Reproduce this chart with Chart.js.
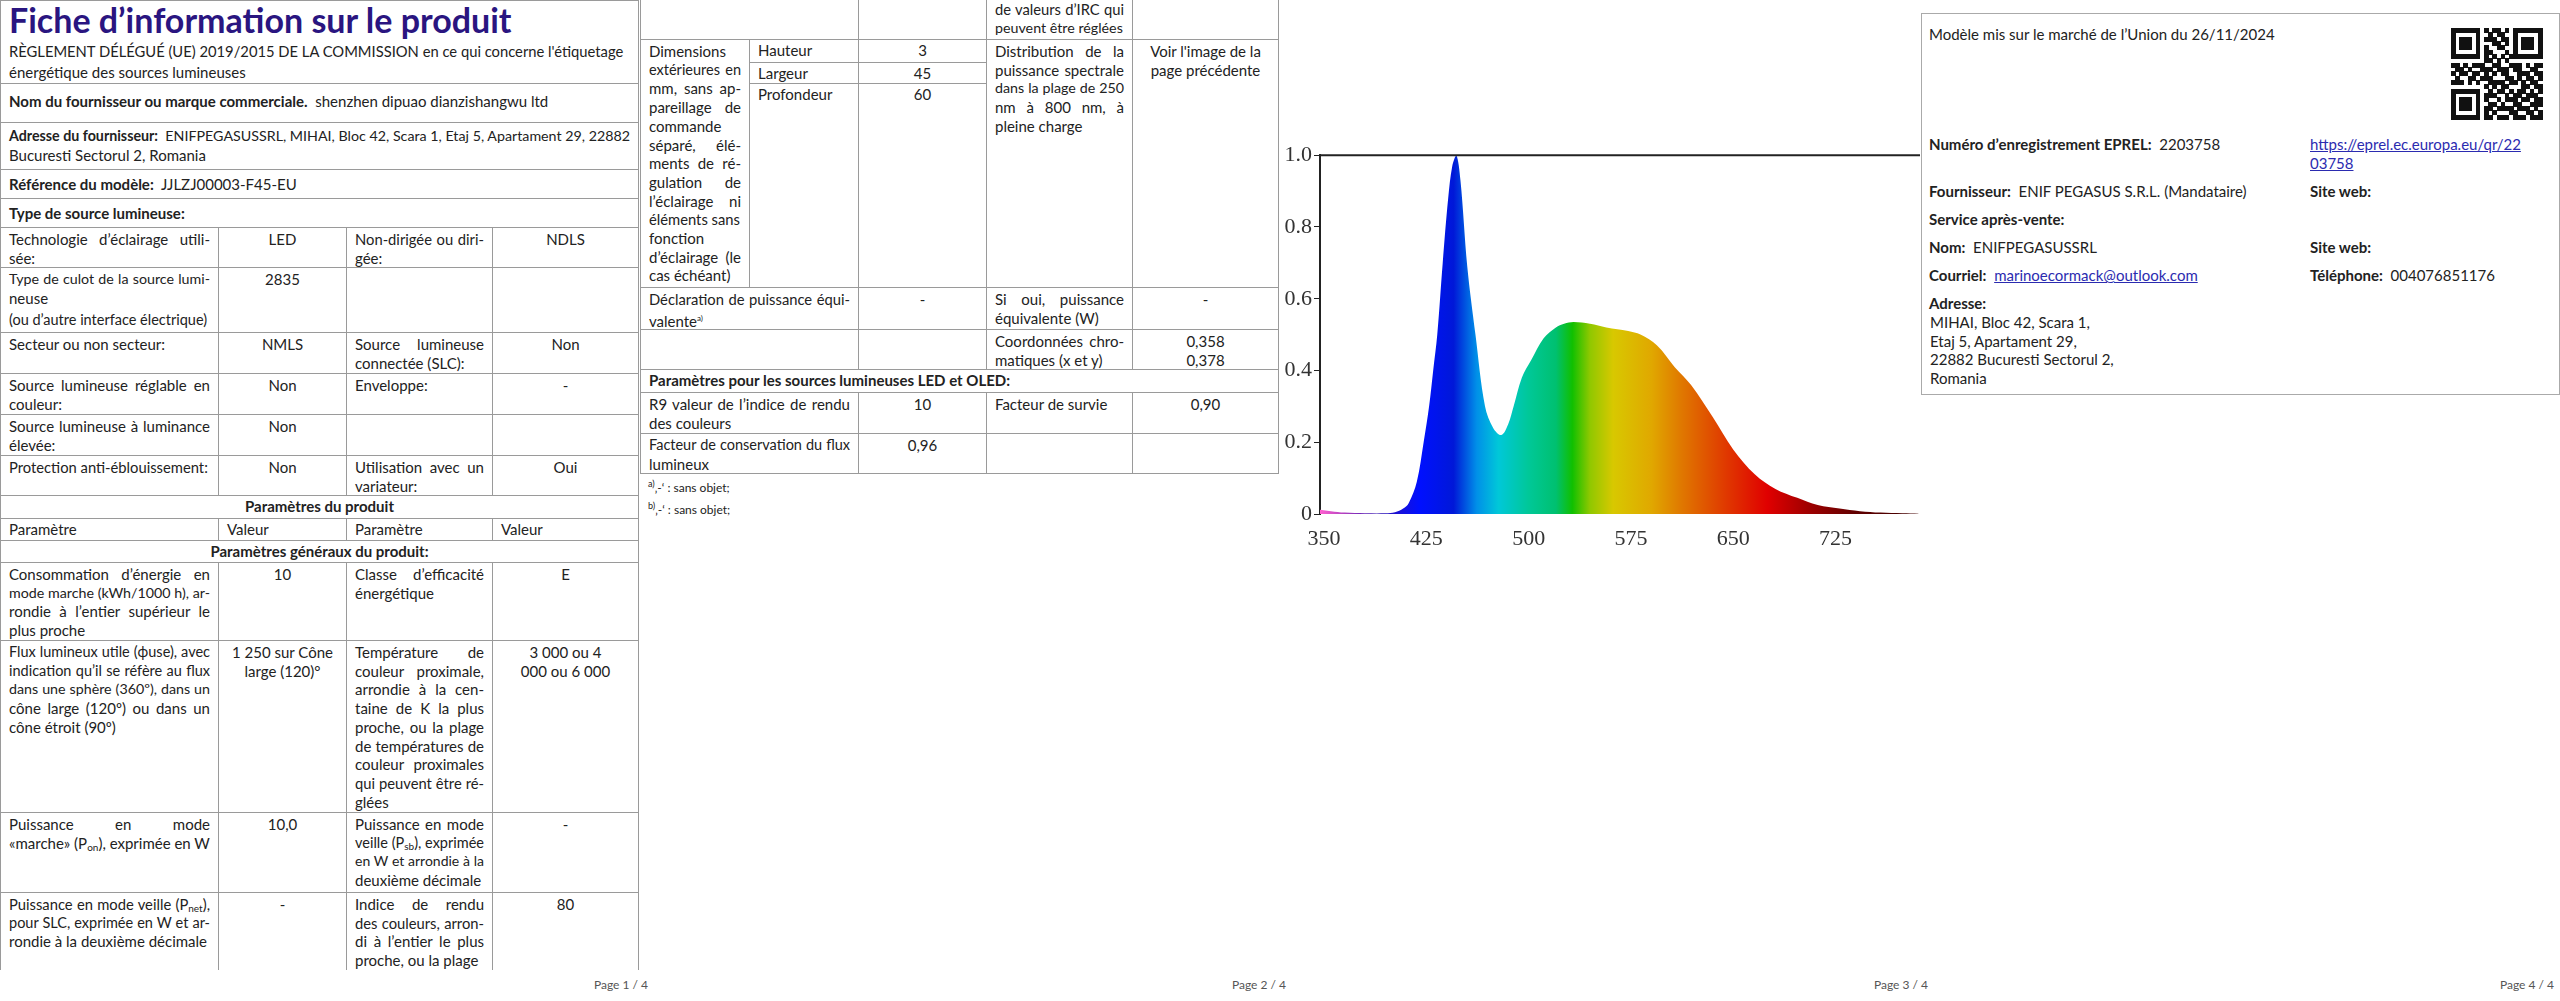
<!DOCTYPE html>
<html lang="fr"><head><meta charset="utf-8">
<script src="https://cdn.jsdelivr.net/npm/chart.js@4/dist/chart.umd.min.js"></script>
<style>
html,body{margin:0;padding:0;background:#fff;width:2560px;height:1001px;overflow:hidden;font-family:Lato,"Noto Sans",sans-serif;color:#222;}
.c{position:absolute;box-sizing:border-box;border:1px solid #9a9a9a;padding:2px 8px;font-size:15px;line-height:18.7px;overflow:hidden;}
.c .l{white-space:nowrap;text-align:justify;text-align-last:justify;overflow:visible;}
.c .l.e{text-align-last:left;}
.ctr,.ctr .l{text-align:center !important;text-align-last:center !important;}
.b{font-weight:bold;}
.t{position:absolute;font-size:15px;line-height:18.7px;white-space:nowrap;}
a{color:#2b2bb0;}
sub{font-size:10px;vertical-align:-2px;line-height:0;}
</style></head><body>
<div id="doc"></div>
<div style="position:absolute;left:1270px;top:140px;width:650px;height:420px;"><canvas id="ch" width="650" height="420"></canvas></div>
<script>
// ---- chart data ----
const wavelengths = [347,355,365,380,395,402,408,412,418,423,427,430,433,437,441,444,447,450,455,461,468,474,480,485,489,495,502,511,520,526,533,545,557,573,582,594,607,619,635,650,666,681,697,712,728,743,758,774,786];
const intensity   = [0.012,0.008,0.004,0.002,0.002,0.005,0.015,0.03,0.09,0.2,0.3,0.4,0.5,0.7,0.88,0.97,1.0,0.93,0.69,0.5,0.3,0.24,0.22,0.25,0.3,0.38,0.43,0.49,0.52,0.53,0.535,0.53,0.52,0.51,0.5,0.47,0.41,0.36,0.27,0.18,0.11,0.07,0.045,0.025,0.015,0.008,0.004,0.002,0.001];
const xTickLabels = [350,425,500,575,650,725];
const yTickLabels = ["0","0.2","0.4","0.6","0.8","1.0"];
const yTickValues = [0,0.2,0.4,0.6,0.8,1.0];

// ---- document text boxes ----
const doc=document.getElementById('doc');
function lines(s){ if(!s.includes('|')&&!s.includes('~')) return '<div class="l e">'+s+'</div>';
  // '|' = justified break, '~' = left break (not justified)
  const out=[];let cur='';let i=0;const parts=s.split(/([|~])/);
  for(let k=0;k<parts.length;k+=2){const txt=parts[k];const sep=parts[k+1];const cls=(sep==='|')?'l':'l e';out.push('<div class="'+cls+'">'+txt+'</div>');}
  return out.join('');}
function c(x,y,w,h,html,cls,style){const d=document.createElement('div');d.className='c '+(cls||'');d.style.left=x+'px';d.style.top=y+'px';d.style.width=(w+1)+'px';d.style.height=(h+1)+'px';if(style)d.style.cssText+=style;d.innerHTML=lines(html);doc.appendChild(d);}
function t(x,y,html,style){const d=document.createElement('div');d.className='t';d.style.left=x+'px';d.style.top=y+'px';if(style)d.style.cssText+=style;d.innerHTML=html;doc.appendChild(d);}
// page 1
const A=[0,218,346,492,638];
function row4(y,h,a,b,cc,d,st){c(A[0],y,A[1]-A[0],h,a,'',st);c(A[1],y,A[2]-A[1],h,b,'ctr',st);c(A[2],y,A[3]-A[2],h,cc,'',st);c(A[3],y,A[4]-A[3],h,d,'ctr',st);}
c(0,0,638,83,'<span style="font-size:34px;line-height:38px;font-weight:bold;color:#2a1580">Fiche d’information sur le produit</span>~<span style="line-height:24px">RÈGLEMENT DÉLÉGUÉ (UE) 2019/2015 DE LA COMMISSION en ce qui concerne l\'étiquetage</span>~énergétique des sources lumineuses','','padding-top:0px');
c(0,83,638,39,'<b>Nom du fournisseur ou marque commerciale.</b>&nbsp; shenzhen dipuao dianzishangwu ltd','','padding-top:8px');
c(0,122,638,47,'<b>Adresse du fournisseur:</b>&nbsp; ENIFPEGASUSSRL, MIHAI, Bloc 42, Scara 1, Etaj 5, Apartament 29, 22882|Bucuresti Sectorul 2, Romania','','padding-top:4px');
c(0,169,638,29,'<b>Référence du modèle:</b>&nbsp; JJLZJ00003-F45-EU','','padding-top:5px');
c(0,198,638,29,'<b>Type de source lumineuse:</b>','','padding-top:5px');
row4(227,40,'Technologie d’éclairage utili-|sée:','LED','Non-dirigée ou diri-|gée:','NDLS');
row4(267,65,'Type de culot de la source lumi-|neuse~<span style="display:inline-block;margin-top:4px">(ou d’autre interface électrique)</span>','2835','','');
row4(332,41,'Secteur ou non secteur:','NMLS','Source lumineuse|connectée (SLC):','Non');
row4(373,41,'Source lumineuse réglable en|couleur:','Non','Enveloppe:','-');
row4(414,41,'Source lumineuse à luminance|élevée:','Non','','');
row4(455,40,'Protection anti-éblouissement:','Non','Utilisation avec un|variateur:','Oui');
c(0,495,638,23,'Paramètres du produit','ctr b','padding-top:1px');
c(0,518,218,22,'Paramètre','','padding-top:1px');c(218,518,128,22,'Valeur','','padding-top:1px');c(346,518,146,22,'Paramètre','','padding-top:1px');c(492,518,146,22,'Valeur','','padding-top:1px');
c(0,540,638,22,'Paramètres généraux du produit:','ctr b','padding-top:1px');
row4(562,78,'Consommation d’énergie en|mode marche (kWh/1000 h), ar-|rondie à l’entier supérieur le|plus proche','10','Classe d’efficacité|énergétique','E');
row4(640,172,'Flux lumineux utile (ϕuse), avec|indication qu’il se réfère au flux|dans une sphère (360º), dans un|cône large (120º) ou dans un|cône étroit (90º)','1 250 sur Cône~large (120)°','Température de|couleur proximale,|arrondie à la cen-|taine de K la plus|proche, ou la plage|de températures de|couleur proximales|qui peuvent être ré-|glées','3 000 ou 4~000 ou 6 000');
row4(812,80,'Puissance en mode|«marche» (P<sub>on</sub>), exprimée en W','10,0','Puissance en mode|veille (P<sub>sb</sub>), exprimée|en W et arrondie à la|deuxième décimale','-');
row4(892,80,'Puissance en mode veille (P<sub>net</sub>),|pour SLC, exprimée en W et ar-|rondie à la deuxième décimale','-','Indice de rendu|des couleurs, arron-|di à l’entier le plus|proche, ou la plage','80','border-bottom:none;height:78px');
// page 2
c(640,-1,218,40,'');c(858,-1,128,40,'');c(986,-1,146,40,'de valeurs d’IRC qui|peuvent être réglées','','padding-top:0');c(1132,-1,146,40,'');
c(640,39,109,248,'Dimensions~extérieures en|mm, sans ap-|pareillage de|commande~séparé, élé-|ments de ré-|gulation de|l’éclairage ni|éléments sans~fonction~d’éclairage (le|cas échéant)');
c(749,39,109,23,'Hauteur','','padding-top:1px');c(858,39,128,23,'3','ctr','padding-top:1px');
c(749,62,109,21,'Largeur','','padding-top:1px');c(858,62,128,21,'45','ctr','padding-top:1px');
c(749,83,109,204,'Profondeur','','padding-top:1px');c(858,83,128,204,'60','ctr','padding-top:1px');
c(986,39,146,248,'Distribution de la|puissance spectrale|dans la plage de 250|nm à 800 nm, à|pleine charge');
c(1132,39,146,248,'Voir l\'image de la~page précédente','ctr');
c(640,287,218,42,'Déclaration de puissance équi-|valente<sup style="font-size:8px">a)</sup>');c(858,287,128,42,'-','ctr');c(986,287,146,42,'Si oui, puissance|équivalente (W)');c(1132,287,146,42,'-','ctr');
c(640,329,218,40,'');c(858,329,128,40,'');c(986,329,146,40,'Coordonnées chro-|matiques (x et y)');c(1132,329,146,40,'0,358~0,378','ctr');
c(640,369,638,23,'Paramètres pour les sources lumineuses LED et OLED:','b','padding-top:1px');
c(640,392,218,41,'R9 valeur de l’indice de rendu|des couleurs');c(858,392,128,41,'10','ctr');c(986,392,146,41,'Facteur de survie');c(1132,392,146,41,'0,90','ctr');
c(640,433,218,40,'Facteur de conservation du flux|lumineux');c(858,433,128,40,'0,96','ctr');c(986,433,146,40,'');c(1132,433,146,40,'');
t(648,475,'<sup style="font-size:9px">a)</sup>‚-‘ : sans objet;','font-size:12px');
t(648,497,'<sup style="font-size:9px">b)</sup>‚-‘ : sans objet;','font-size:12px');
// shrink overlong lines
document.querySelectorAll('.c .l').forEach(el=>{let fs=15;const box=el.parentElement;const avail=box.clientWidth-16;const r=document.createRange();r.selectNodeContents(el);
  el.style.textAlignLast='left';let w=r.getBoundingClientRect().width;
  while(w>avail&&fs>11){fs-=0.25;el.style.fontSize=fs+'px';w=r.getBoundingClientRect().width;}
  el.style.textAlignLast='';});
// page 4
c(1921,13,638,381,'','','border-color:#aaa');
t(1929,25,'Modèle mis sur le marché de l’Union du 26/11/2024');
t(1929,135,'<b>Numéro d’enregistrement EPREL:</b>&nbsp; 2203758');
t(2310,135,'<a href="#">https://eprel.ec.europa.eu/qr/22</a><br><a href="#">03758</a>');
t(1929,182,'<b>Fournisseur:</b>&nbsp; ENIF PEGASUS S.R.L. (Mandataire)');
t(2310,182,'<b>Site web:</b>');
t(1929,210,'<b>Service après-vente:</b>');
t(1929,238,'<b>Nom:</b>&nbsp; ENIFPEGASUSSRL');
t(2310,238,'<b>Site web:</b>');
t(1929,266,'<b>Courriel:</b>&nbsp; <a href="#">marinoecormack@outlook.com</a>');
t(2310,266,'<b>Téléphone:</b>&nbsp; 004076851176');
t(1929,294,'<b>Adresse:</b>');
t(1930,313,'MIHAI, Bloc 42, Scara 1,<br>Etaj 5, Apartament 29,<br>22882 Bucuresti Sectorul 2,<br>Romania');
// QR-like pattern
const qr=["1111111010110101111111","1000001001011001000001","1011101011101101011101","1011101000110101011101","1011101010011001011101","1000001011000101000001","1111111010101011111111","0000000011010100000000","1101011100110011101011","0110100111011101100110","1011011010101100111011","0100110111000110101101","1110101001111011010110","0000000010101100011011","1111111001011010110101","1000001011100101101110","1011101010010111011011","1011101001101001100111","1011101011011110111010","1000001010100011001101","1111111011011101110111"];
const q=document.createElement('div');q.style.cssText='position:absolute;left:2451px;top:28px;width:91px;height:91px;';
const cs=91/22, rs=91/21;
qr.forEach((r,i)=>{[...r].forEach((v,j)=>{if(v==='1'){const s=document.createElement('div');s.style.cssText=`position:absolute;background:#111;left:${(j*cs).toFixed(1)}px;top:${(i*rs).toFixed(1)}px;width:${(cs+0.6).toFixed(1)}px;height:${(rs+0.6).toFixed(1)}px`;q.appendChild(s);}});});
doc.appendChild(q);
// page numbers
t(594,976,'Page 1 / 4','font-size:12px;color:#555');
t(1232,976,'Page 2 / 4','font-size:12px;color:#555');
t(1874,976,'Page 3 / 4','font-size:12px;color:#555');
t(2500,976,'Page 4 / 4','font-size:12px;color:#555');

// ---- chart ----
const spectrumStops=[[347,'#ff5fd0'],[365,'#b040c0'],[390,'#3010b0'],[420,'#0010ff'],[445,'#0018d8'],[462,'#0090e8'],[478,'#00c8d8'],[500,'#00c898'],[520,'#00c070'],[532,'#10c000'],[545,'#90c800'],[562,'#d8c800'],[590,'#e0a800'],[612,'#e07800'],[645,'#e03800'],[675,'#e00000'],[705,'#a00000'],[740,'#600000'],[786,'#400000']];
function grad(context){const ch=context.chart;const a=ch.chartArea;if(!a)return '#00f';const xs=ch.scales.x;const g=ch.ctx.createLinearGradient(a.left,0,a.right,0);const w=a.right-a.left;spectrumStops.forEach(s=>{g.addColorStop(Math.min(1,Math.max(0,(xs.getPixelForValue(s[0])-a.left)/w)),s[1]);});return g;}
const topLine={id:'topLine',afterDraw(ch){const a=ch.chartArea,ctx=ch.ctx;ctx.save();ctx.strokeStyle='#222';ctx.lineWidth=2;ctx.beginPath();ctx.moveTo(a.left,a.top);ctx.lineTo(a.right+2,a.top);ctx.stroke();ctx.restore();}};
new Chart(document.getElementById('ch'),{type:'line',
 data:{datasets:[{data:wavelengths.map((w,i)=>({x:w,y:intensity[i]})),fill:'origin',backgroundColor:grad,borderWidth:0,pointRadius:0,tension:0.35}]},
 options:{responsive:false,animation:false,layout:{padding:{top:12,right:0,left:0,bottom:0}},
  plugins:{legend:{display:false},tooltip:{enabled:false}},
  scales:{
   x:{type:'linear',min:347,max:787,grid:{display:false},border:{display:false},
      afterBuildTicks:s=>{s.ticks=xTickLabels.map(v=>({value:v}));},
      ticks:{font:{family:'Liberation Serif',size:22},color:'#333',padding:4,maxRotation:0,autoSkip:false},
      afterFit:s=>{s.height=46;}},
   y:{min:0,max:1,grid:{drawOnChartArea:false,drawTicks:true,tickLength:6,color:'#222'},border:{display:true,color:'#222',width:2},
      afterBuildTicks:s=>{s.ticks=yTickValues.map(v=>({value:v}));},
      ticks:{font:{family:'Liberation Serif',size:22},color:'#333',padding:2,callback:(v)=>yTickLabels[yTickValues.indexOf(v)]},
      afterFit:s=>{s.width=50;}}
  }},plugins:[topLine]});
</script></body></html>
